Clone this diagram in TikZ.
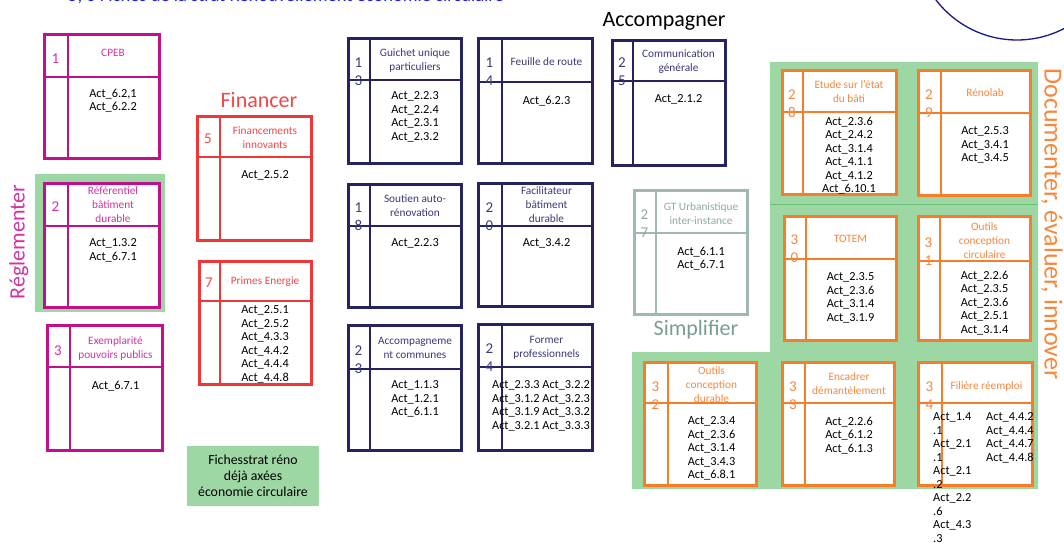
\documentclass[tikz,border=0pt]{standalone}
\usepackage{fontspec}
\setmainfont{Carlito}
\definecolor{mag}{RGB}{192,16,140}
\definecolor{magt}{RGB}{208,52,162}
\definecolor{redf}{RGB}{240,55,55}
\definecolor{redt}{RGB}{240,72,72}
\definecolor{navy}{RGB}{38,36,96}
\definecolor{navyt}{RGB}{58,58,122}
\definecolor{orangef}{RGB}{246,126,42}
\definecolor{oranget}{RGB}{246,136,62}
\definecolor{greyf}{RGB}{160,185,175}
\definecolor{greyt}{RGB}{140,172,160}
\definecolor{greenbg}{RGB}{157,216,164}
\definecolor{greenline}{RGB}{105,190,115}
\definecolor{titleblue}{RGB}{30,30,235}
\definecolor{circ}{RGB}{25,25,140}
\definecolor{simpl}{RGB}{120,158,146}
\newcommand\cardframe[8]{%
  \fill[white] (#3,#4) rectangle (#5,#6);
  \draw[innerline, draw=#2] (#7,#4) -- (#7,#6);
  \draw[innerline, draw=#2] (#3,#8) -- (#5,#8);
  \node[frame, draw=#2, minimum width={#5-#3}, minimum height={#6-#4}] (#1) at (#3,#4) {};}
\newcommand\cardhead[9]{%
  \node[numtxt, text=#2, anchor=north] (#1-num) at ({(#3+#4)/2},{#6-4.8}) {#7};
  \node[headtxt, text=#2] (#1-head) at ({(#4+#5)/2},#8) {#9};}
\newcommand\cardbody[5]{%
  \node[bodytxt, anchor=north] (#1-body) at ({(#2+#3)/2},{#4-4.3}) {#5};}
\begin{document}
\begin{tikzpicture}[x=1pt,y=-1pt,
  frame/.style={line width=2.6pt, inner sep=0pt, anchor=north west},
  innerline/.style={line width=1.4pt},
  numtxt/.style={font=\fontsize{15}{18}\selectfont, align=center, inner sep=0pt},
  headtxt/.style={font=\fontsize{11.3}{14}\selectfont, align=center, inner sep=0pt},
  bodytxt/.style={font=\fontsize{12.3}{13.5}\selectfont, align=center, inner sep=0pt, text=black},
  biglabel/.style={font=\fontsize{22}{26}\selectfont, inner sep=0pt}]
\useasboundingbox (0,0) rectangle (1064,542);
% title and circle
\node[anchor=base west, text=titleblue, font=\fontsize{18.5}{22}\selectfont, inner sep=0pt] (title) at (68,1.2) {5, 6 Fiches de la strat Renouvellement économie circulaire};
\draw[circ, line width=1.3pt] (1017,-62) circle[radius=102pt];
% green backgrounds
\fill[greenbg] (35,174) rectangle (165,312);
\fill[greenbg] (770,62) -- (1038,62) -- (1038,489) -- (632,489) -- (632,352) -- (770,352) -- cycle;
\draw[greenline, line width=0.8pt] (770,204) -- (1038,204);
\node[fill=greenbg, minimum width=132pt, minimum height=60pt, inner sep=0pt, align=center,
  font=\fontsize{13.8}{16}\selectfont] (fiches) at (253,476) {Fichesstrat réno\\déjà axées\\économie circulaire};
% group labels
\node[biglabel, text=magt, rotate=90] (regl) at (19,242) {Réglementer};
\node[biglabel, text=redt] (fin) at (259,100) {Financer};
\node[biglabel, text=black] (acc) at (664,21) {Accompagner};
\node[biglabel, text=simpl] (simp) at (696,330) {Simplifier};
\node[font=\fontsize{26}{30}\selectfont, inner sep=0pt, text=oranget, rotate=-90] (doc) at (1052,224) {Documenter, évaluer, innover};
% Réglementer
\cardframe{c1}{mag}{43}{33}{158}{157}{68}{77}
\cardhead{c1}{magt}{43}{68}{158}{58}{1}{53}{CPEB}
\cardbody{c1}{68}{158}{93}{Act\_6.2,1\\Act\_6.2.2}
\cardframe{c2}{mag}{43}{182}{158}{306}{68}{226}
\cardhead{c2}{magt}{43}{68}{158}{206}{2}{205}{Référentiel\\bâtiment\\durable}
\cardbody{c2}{68}{158}{243}{Act\_1.3.2\\Act\_6.7.1}
\cardframe{c3}{mag}{46}{324}{161}{449}{70}{367}
\cardhead{c3}{magt}{46}{70}{161}{350}{3}{348}{Exemplarité\\pouvoirs publics}
\cardbody{c3}{70}{161}{385}{Act\_6.7.1}
% Financer
\cardframe{c5}{redf}{196}{115}{310}{239}{220}{157}
\cardhead{c5}{redt}{196}{220}{310}{138}{5}{138}{Financements\\innovants}
\cardbody{c5}{220}{310}{175}{Act\_2.5.2}
\cardframe{c7}{redf}{198}{260}{310}{383}{220}{301}
\cardhead{c7}{redt}{198}{220}{310}{282}{7}{282}{Primes Energie}
\cardbody{c7}{220}{310}{310}{Act\_2.5.1\\Act\_2.5.2\\Act\_4.3.3\\Act\_4.4.2\\Act\_4.4.4\\Act\_4.4.8}
% Accompagner
\cardframe{c13}{navy}{347}{37}{460}{162}{370}{80}
\cardhead{c13}{navyt}{347}{370}{460}{62}{1\\3}{60}{Guichet unique\\particuliers}
\cardbody{c13}{370}{460}{96}{Act\_2.2.3\\Act\_2.2.4\\Act\_2.3.1\\Act\_2.3.2}
\cardframe{c14}{navy}{477}{37}{591}{162}{502}{82}
\cardhead{c14}{navyt}{477}{502}{591}{62}{1\\4}{62}{Feuille de route}
\cardbody{c14}{502}{591}{100}{Act\_6.2.3}
\cardframe{c18}{navy}{347}{183}{460}{306}{370}{226}
\cardhead{c18}{navyt}{347}{370}{460}{207}{1\\8}{206}{Soutien auto-\\rénovation}
\cardbody{c18}{370}{460}{243}{Act\_2.2.3}
\cardframe{c20}{navy}{477}{182}{591}{305}{502}{226}
\cardhead{c20}{navyt}{477}{502}{591}{207}{2\\0}{205}{Facilitateur\\bâtiment\\durable}
\cardbody{c20}{502}{591}{243}{Act\_3.4.2}
\cardframe{c23}{navy}{347}{324}{460}{449}{370}{369}
\cardhead{c23}{navyt}{347}{370}{460}{350}{2\\3}{348}{Accompagneme\\nt communes}
\cardbody{c23}{370}{460}{385}{Act\_1.1.3\\Act\_1.2.1\\Act\_6.1.1}
\cardframe{c24}{navy}{477}{323}{591}{449}{502}{367}
\cardhead{c24}{navyt}{477}{502}{591}{348}{2\\4}{348}{Former\\professionnels}
\node[bodytxt, anchor=north] (c24-body) at (541,380.7) {Act\_2.3.3 Act\_3.2.2\\Act\_3.1.2 Act\_3.2.3\\Act\_3.1.9 Act\_3.3.2\\Act\_3.2.1 Act\_3.3.3};
\cardframe{c25}{navy}{611}{39}{724}{164}{633}{81}
\cardhead{c25}{navyt}{611}{633}{724}{62}{2\\5}{62}{Communication\\générale}
\cardbody{c25}{633}{724}{99}{Act\_2.1.2}
% Simplifier
\cardframe{c27}{greyf}{633}{189}{746}{313}{656}{233}
\cardhead{c27}{greyt}{633}{656}{746}{214}{2\\7}{214}{GT Urbanistique\\inter-instance}
\cardbody{c27}{656}{746}{251}{Act\_6.1.1\\Act\_6.7.1}
% Documenter
\cardframe{c28}{orangef}{781}{69}{895}{193}{803}{112}
\cardhead{c28}{oranget}{781}{803}{895}{94}{2\\8}{92}{Etude sur l’état\\du bâti}
\cardbody{c28}{803}{895}{121}{Act\_2.3.6\\Act\_2.4.2\\Act\_3.1.4\\Act\_4.1.1\\Act\_4.1.2\\Act\_6.10.1}
\cardframe{c29}{orangef}{917}{69}{1029}{194}{941}{113}
\cardhead{c29}{oranget}{917}{941}{1029}{94}{2\\9}{93}{Rénolab}
\cardbody{c29}{941}{1029}{131}{Act\_2.5.3\\Act\_3.4.1\\Act\_3.4.5}
\cardframe{c30}{orangef}{783}{215}{895}{339}{806}{259}
\cardhead{c30}{oranget}{783}{806}{895}{239}{3\\0}{239}{TOTEM}
\cardbody{c30}{806}{895}{277}{Act\_2.3.5\\Act\_2.3.6\\Act\_3.1.4\\Act\_3.1.9}
\cardframe{c31}{orangef}{917}{215}{1029}{339}{940}{261}
\cardhead{c31}{oranget}{917}{940}{1029}{242}{3\\1}{241}{Outils\\conception\\circulaire}
\cardbody{c31}{940}{1029}{275}{Act\_2.2.6\\Act\_2.3.5\\Act\_2.3.6\\Act\_2.5.1\\Act\_3.1.4}
\cardframe{c32}{orangef}{643}{361}{755}{484}{668}{403}
\cardhead{c32}{oranget}{643}{668}{755}{386}{3\\2}{385}{Outils\\conception\\durable}
\cardbody{c32}{668}{755}{421}{Act\_2.3.4\\Act\_2.3.6\\Act\_3.1.4\\Act\_3.4.3\\Act\_6.8.1}
\cardframe{c33}{orangef}{781}{361}{893}{484}{805}{403}
\cardhead{c33}{oranget}{781}{805}{893}{386}{3\\3}{384}{Encadrer\\démantèlement}
\cardbody{c33}{805}{893}{421}{Act\_2.2.6\\Act\_6.1.2\\Act\_6.1.3}
\cardframe{c34}{orangef}{917}{361}{1031}{484}{942}{403}
\cardhead{c34}{oranget}{917}{942}{1031}{386}{3\\4}{386}{Filière réemploi}
\node[bodytxt, align=left, anchor=north west] (c34-bodyl) at (933,412.7) {Act\_1.4\\.1\\Act\_2.1\\.1\\Act\_2.1\\.2\\Act\_2.2\\.6\\Act\_4.3\\.3};
\node[bodytxt, align=left, anchor=north west] (c34-bodyr) at (986,412.7) {Act\_4.4.2\\Act\_4.4.4\\Act\_4.4.7\\Act\_4.4.8};
\end{tikzpicture}
\end{document}
